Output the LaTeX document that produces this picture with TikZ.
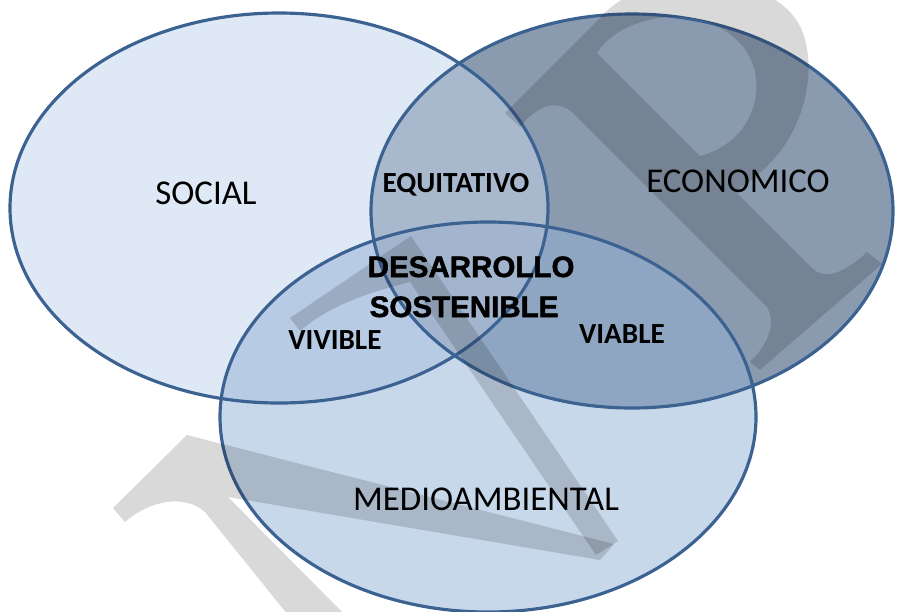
\documentclass[tikz,border=0pt]{standalone}
\usepackage{fontspec}
\setmainfont{Carlito}
\newfontfamily\coresans{Liberation Sans}[BoldFeatures={FakeBold=1.6}]

\definecolor{socialfill}{RGB}{223,233,245}
\definecolor{econfill}{RGB}{138,155,176}
\definecolor{mediofill}{RGB}{200,216,235}
\definecolor{equifill}{RGB}{168,185,206}
\definecolor{vivfill}{RGB}{183,203,228}
\definecolor{viafill}{RGB}{143,166,194}
\definecolor{corefill}{RGB}{163,181,206}
\definecolor{rimblue}{RGB}{60,98,146}

\newcommand\socialoval{(279,208) ellipse [x radius=269, y radius=195]}
\newcommand\econoval{(632,211) ellipse [x radius=261, y radius=197]}
\newcommand\mediooval{(488,417) ellipse [x radius=268, y radius=195]}

\begin{document}
\begin{tikzpicture}[x=0.01cm, y=-0.01cm,
    rim/.style={draw=rimblue, line width=0.9pt},
    wmark/.style={fill=black, fill opacity=0.15},
    bigword/.style={anchor=base, inner sep=0pt, font=\fontsize{9.9}{12}\selectfont},
    smallword/.style={anchor=base, inner sep=0pt, font=\bfseries\fontsize{8.3}{10}\selectfont},
    coreword/.style={anchor=base west, inner sep=0pt, font=\coresans\bfseries\fontsize{8.4}{10}\selectfont}
    ]
    \clip (0,0) rectangle (903,611);
    \fill[socialfill] \socialoval;
    \fill[econfill] \econoval;
    \fill[mediofill] \mediooval;
    \begin{scope}
      \clip \socialoval;
      \fill[equifill] \econoval;
      \fill[vivfill] \mediooval;
    \end{scope}
    \begin{scope}
      \clip \econoval;
      \fill[viafill] \mediooval;
      \clip \socialoval;
      \fill[corefill] \mediooval;
    \end{scope}
    \draw[rim] \socialoval;
    \draw[rim] \econoval;
    \draw[rim] \mediooval;

    \fill[wmark] (113,508) -- (187,435) -- (614,544) -- (600,560) -- (228,497)
      -- (350,620) -- (292,620) -- (205,512) .. controls (185,494) and (150,500) .. (125,522) -- cycle;
    \fill[wmark] (290,318) -- (411,236) -- (618,541) -- (596,555) -- (410,282)
      .. controls (370,292) and (330,305) .. (300,331) -- cycle;
    \fill[wmark, even odd rule] (505,113) -- (600,18) .. controls (650,-40) and (780,-30) .. (803,33)
      .. controls (818,75) and (805,150) .. (735,191) -- (813,269)
      .. controls (828,282) and (850,268) .. (867,252) -- (882,264) -- (760,370) -- (750,362)
      .. controls (772,340) and (775,320) .. (767,307) -- (573,113)
      .. controls (555,97) and (535,108) .. (520,127) -- cycle
      (597,53) .. controls (620,15) and (700,0) .. (740,43)
      .. controls (770,75) and (760,140) .. (700,156) -- cycle;

    \node[bigword] (social) at (206,204) {SOCIAL};
    \node[bigword] (economico) at (738,192) {ECONOMICO};
    \node[bigword] (medio) at (486,510) {MEDIOAMBIENTAL};
    \node[smallword] (equitativo) at (456,192) {EQUITATIVO};
    \node[smallword] (vivible) at (335,349) {VIVIBLE};
    \node[smallword] (viable) at (622,343) {VIABLE};
    \node[coreword] (desarrollo) at (367,277) {DESARROLLO};
    \node[coreword] (sostenible) at (369,317) {SOSTENIBLE};
\end{tikzpicture}
\end{document}
